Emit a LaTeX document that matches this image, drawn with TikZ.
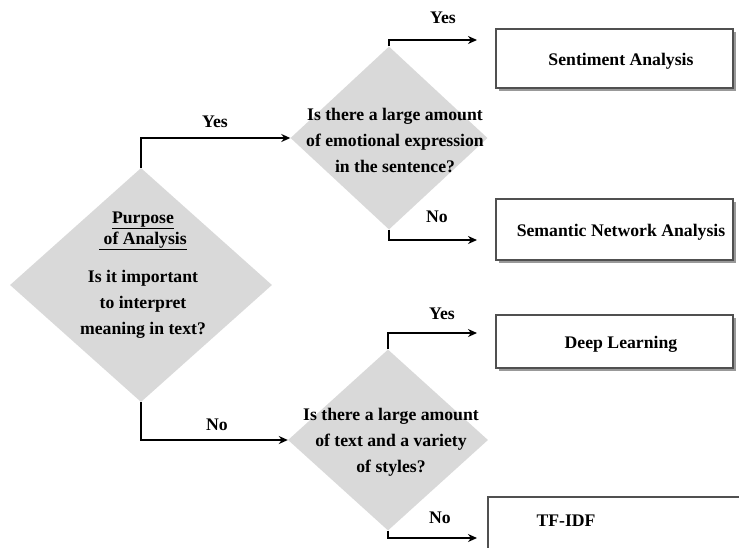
\documentclass[tikz,border=0pt]{standalone}
\usepackage{fontspec}
\setmainfont{Liberation Serif}
\usetikzlibrary{shapes.geometric,shadows,arrows.meta}
\definecolor{dgray}{RGB}{217,217,217}
\definecolor{bordergray}{RGB}{80,80,80}
\begin{document}
\begin{tikzpicture}[x=1pt,y=-1pt,
  dia/.style={diamond, fill=dgray, draw=none, inner sep=0pt},
  qtxt/.style={font=\fontsize{17.7}{26}\selectfont\bfseries, align=center, inner sep=0pt},
  box/.style={draw=bordergray, line width=1.3pt, fill=white, inner sep=0pt,
    drop shadow={shadow xshift=2.5pt, shadow yshift=-3pt, opacity=0.4, fill=black}},
  lab/.style={font=\fontsize{17.7}{20}\selectfont\bfseries, inner sep=0pt},
  boxtxt/.style={lab, xshift=6.5pt, yshift=-3pt},
  arr/.style={line width=2.4pt, -{Stealth[length=9pt,width=8pt]}}]
\useasboundingbox (0,0) rectangle (739,547);

% diamonds
\node[dia, minimum width=262pt, minimum height=234pt] (d0) at (141,285) {};
\node[dia, minimum width=197pt, minimum height=183pt] (d1) at (389,138) {};
\node[dia, minimum width=200pt, minimum height=181pt] (d2) at (388,440) {};

\node[qtxt] (t0) at (143,275) {\underline{Purpose}\\[-5pt]\underline{ of Analysis}\\[12pt]Is it important\\to interpret\\meaning in text?};
\node[qtxt] (t1) at (395,140) {Is there a large amount\\of emotional expression\\in the sentence?};
\node[qtxt] (t2) at (391,442) {Is there a large amount\\of text and a variety\\of styles?};

% boxes
\node[box, minimum width=237pt, minimum height=59pt, label={[boxtxt]center:Sentiment Analysis}] (b1) at (614.5,58.5) {};
\node[box, minimum width=237pt, minimum height=61pt, label={[boxtxt]center:Semantic Network Analysis}] (b2) at (614.5,229.5) {};
\node[box, minimum width=237pt, minimum height=53pt, label={[boxtxt]center:Deep Learning}] (b3) at (614.5,341.5) {};
\node[box, minimum width=272pt, minimum height=73pt, label={[lab, xshift=-58pt, yshift=12.5pt]center:TF-IDF}] (b4) at (624,533.5) {};

% arrow end points (just left of the boxes)
\coordinate (e1) at (477,40);
\coordinate (e2) at (477,240);
\coordinate (e3) at (477,333);
\coordinate (e4) at (477,538);

% connectors
\draw[arr] (d0.north) |- (d1.west);
\draw[arr] (d0.south) |- (d2.west);
\draw[arr] (d1.north) |- (e1);
\draw[arr] (d1.south) |- (e2);
\draw[arr] (d2.north) |- (e3);
\draw[arr] (d2.south) |- (e4);

% labels
\node[lab] (l1) at (215,122) {Yes};
\node[lab] (l2) at (217,425) {No};
\node[lab] (l3) at (443,18) {Yes};
\node[lab] (l4) at (437,217) {No};
\node[lab] (l5) at (442,314) {Yes};
\node[lab] (l6) at (440,518) {No};
\end{tikzpicture}
\end{document}
